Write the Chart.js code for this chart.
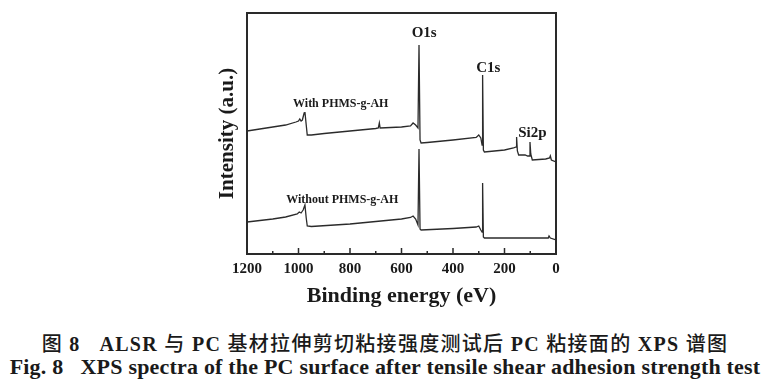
<!DOCTYPE html>
<html>
<head>
<meta charset="utf-8">
<script src="https://cdn.jsdelivr.net/npm/chart.js@4.4.1/dist/chart.umd.min.js"></script>
<style>
  html,body{margin:0;padding:0;background:#fff;}
  #wrap{position:relative;width:770px;height:390px;overflow:hidden;}
  #box{position:absolute;left:0;top:0;width:770px;height:320px;}
  .cap{position:absolute;left:0;width:770px;text-align:center;color:#1a1a1a;white-space:nowrap;}
  #cap1{top:328px;font:bold 20px "Liberation Serif","Noto Sans CJK SC",serif;letter-spacing:1.3px;}
  #cap1 .zh{font-weight:500;}
  #cap2{top:354px;font:bold 22px "Liberation Serif",serif;letter-spacing:0.2px;}
</style>
</head>
<body>
<div id="wrap">
  <div id="box"><canvas id="c"></canvas></div>
  <div class="cap" id="cap1"><span class="zh">图</span> 8&nbsp;&nbsp; ALSR <span class="zh">与</span> PC <span class="zh">基材拉伸剪切粘接强度测试后</span> PC <span class="zh">粘接面的</span> XPS <span class="zh">谱图</span></div>
  <div class="cap" id="cap2">Fig. 8&nbsp;&nbsp; XPS spectra of the PC surface after tensile shear adhesion strength test</div>
</div>
<script>
// Binding energy (eV) and intensity (a.u.)
const withEnergy = [1200,1150,1100,1050,1010,1000,995,990,985,978,975,970,966,950,900,800,700,690,686,683,600,565,555,545,536,532,528,524,500,400,310,300,292,287,285,282,278,200,165,155,153,150,145,120,110,103,101,98,92,40,25,22,18,0];
const withIntensity = [123,125,127,129,132,133,135,133,134,141,142,129,119,119,120.5,123,125.5,126,131,126,127,128,131,129,126,209,114,111,111.5,114,116.5,119,116,109,179,104,102,104,106,107,117,103,99,99,98,98,112,100,94,95,96,98,94,92];

const withoutEnergy = [1200,1100,1050,1005,997,990,982,975,970,966,950,800,600,565,555,545,536,532,528,524,400,310,300,292,287,285,282,278,100,30,27,22,0];
const withoutIntensity = [32,35,37,40,42,41,44,49,36,28,27.5,30,35,36.5,38,35,29,105,25,24,25.5,27,28,24,22,71,17,16,16,16,18,16,14];

const xTickLabels = [0,200,400,600,800,1000,1200];
const xTickValues = [0,100,200,300,400,500,600,700,800,900,1000,1100,1200];

const peakLabels = ['O1s','C1s','Si2p'];
const peakLabelEnergy = [512,263,92];
const peakLabelIntensity = [221,186,121];

const seriesLabels = ['With PHMS-g-AH','Without PHMS-g-AH'];
const seriesLabelEnergy = [836,830];
const seriesLabelIntensity = [150,54];

const toPts = (xs, ys) => xs.map((x,i)=>({x:x,y:ys[i]}));

const decor = {
  id:'decor',
  afterDraw(chart){
    const {ctx, chartArea:a, scales:{x,y}} = chart;
    ctx.save();
    ctx.strokeStyle = '#2a2a2a';
    ctx.lineWidth = 2;
    ctx.strokeRect(a.left, a.top, a.right-a.left, a.bottom-a.top);
    ctx.lineWidth = 1.5;
    xTickValues.forEach(v=>{
      const px = x.getPixelForValue(v);
      const len = (v % 200 === 0) ? 6 : 3;
      ctx.beginPath(); ctx.moveTo(px, a.bottom); ctx.lineTo(px, a.bottom-len); ctx.stroke();
    });
    ctx.fillStyle = '#1a1a1a';
    ctx.textAlign = 'center'; ctx.textBaseline = 'middle';
    ctx.font = 'bold 15px "Liberation Serif", serif';
    peakLabels.forEach((t,i)=>{
      ctx.fillText(t, x.getPixelForValue(peakLabelEnergy[i]), y.getPixelForValue(peakLabelIntensity[i]));
    });
    ctx.font = 'bold 12px "Liberation Serif", serif';
    seriesLabels.forEach((t,i)=>{
      ctx.fillText(t, x.getPixelForValue(seriesLabelEnergy[i]), y.getPixelForValue(seriesLabelIntensity[i]));
    });
    ctx.restore();
  }
};

new Chart(document.getElementById('c'), {
  type:'scatter',
  data:{datasets:[
    {data:toPts(withEnergy,withIntensity), showLine:true, borderColor:'#2b2b2b', borderWidth:1.3, pointRadius:0, tension:0},
    {data:toPts(withoutEnergy,withoutIntensity), showLine:true, borderColor:'#2b2b2b', borderWidth:1.3, pointRadius:0, tension:0}
  ]},
  options:{
    responsive:true, maintainAspectRatio:false, animation:false,
    layout:{padding:{left:211, right:214, top:13, bottom:6}},
    plugins:{legend:{display:false}, tooltip:{enabled:false}},
    scales:{
      x:{type:'linear', reverse:true, min:0, max:1200,
         afterFit:s=>{s.height=60;},
         afterBuildTicks:s=>{s.ticks = xTickLabels.map(v=>({value:v}));},
         ticks:{padding:6, color:'#1a1a1a', font:{family:'"Liberation Serif", serif', weight:'bold', size:15}, maxRotation:0,
                callback:v=>String(v)},
         grid:{display:false, drawTicks:false},
         border:{display:true, color:'#2a2a2a', width:2},
         title:{display:true, text:'Binding energy (eV)', color:'#1a1a1a', font:{family:'"Liberation Serif", serif', weight:'bold', size:22}, padding:{top:4,bottom:4}}
      },
      y:{min:0, max:241,
         afterFit:s=>{s.width=36;},
         ticks:{display:false},
         grid:{display:false, drawTicks:false},
         border:{display:true, color:'#2a2a2a', width:2},
         title:{display:true, text:'Intensity (a.u.)', color:'#1a1a1a', font:{family:'"Liberation Serif", serif', weight:'bold', size:21}, padding:{top:4,bottom:4}}
      }
    }
  },
  plugins:[decor]
});
</script>
</body>
</html>
